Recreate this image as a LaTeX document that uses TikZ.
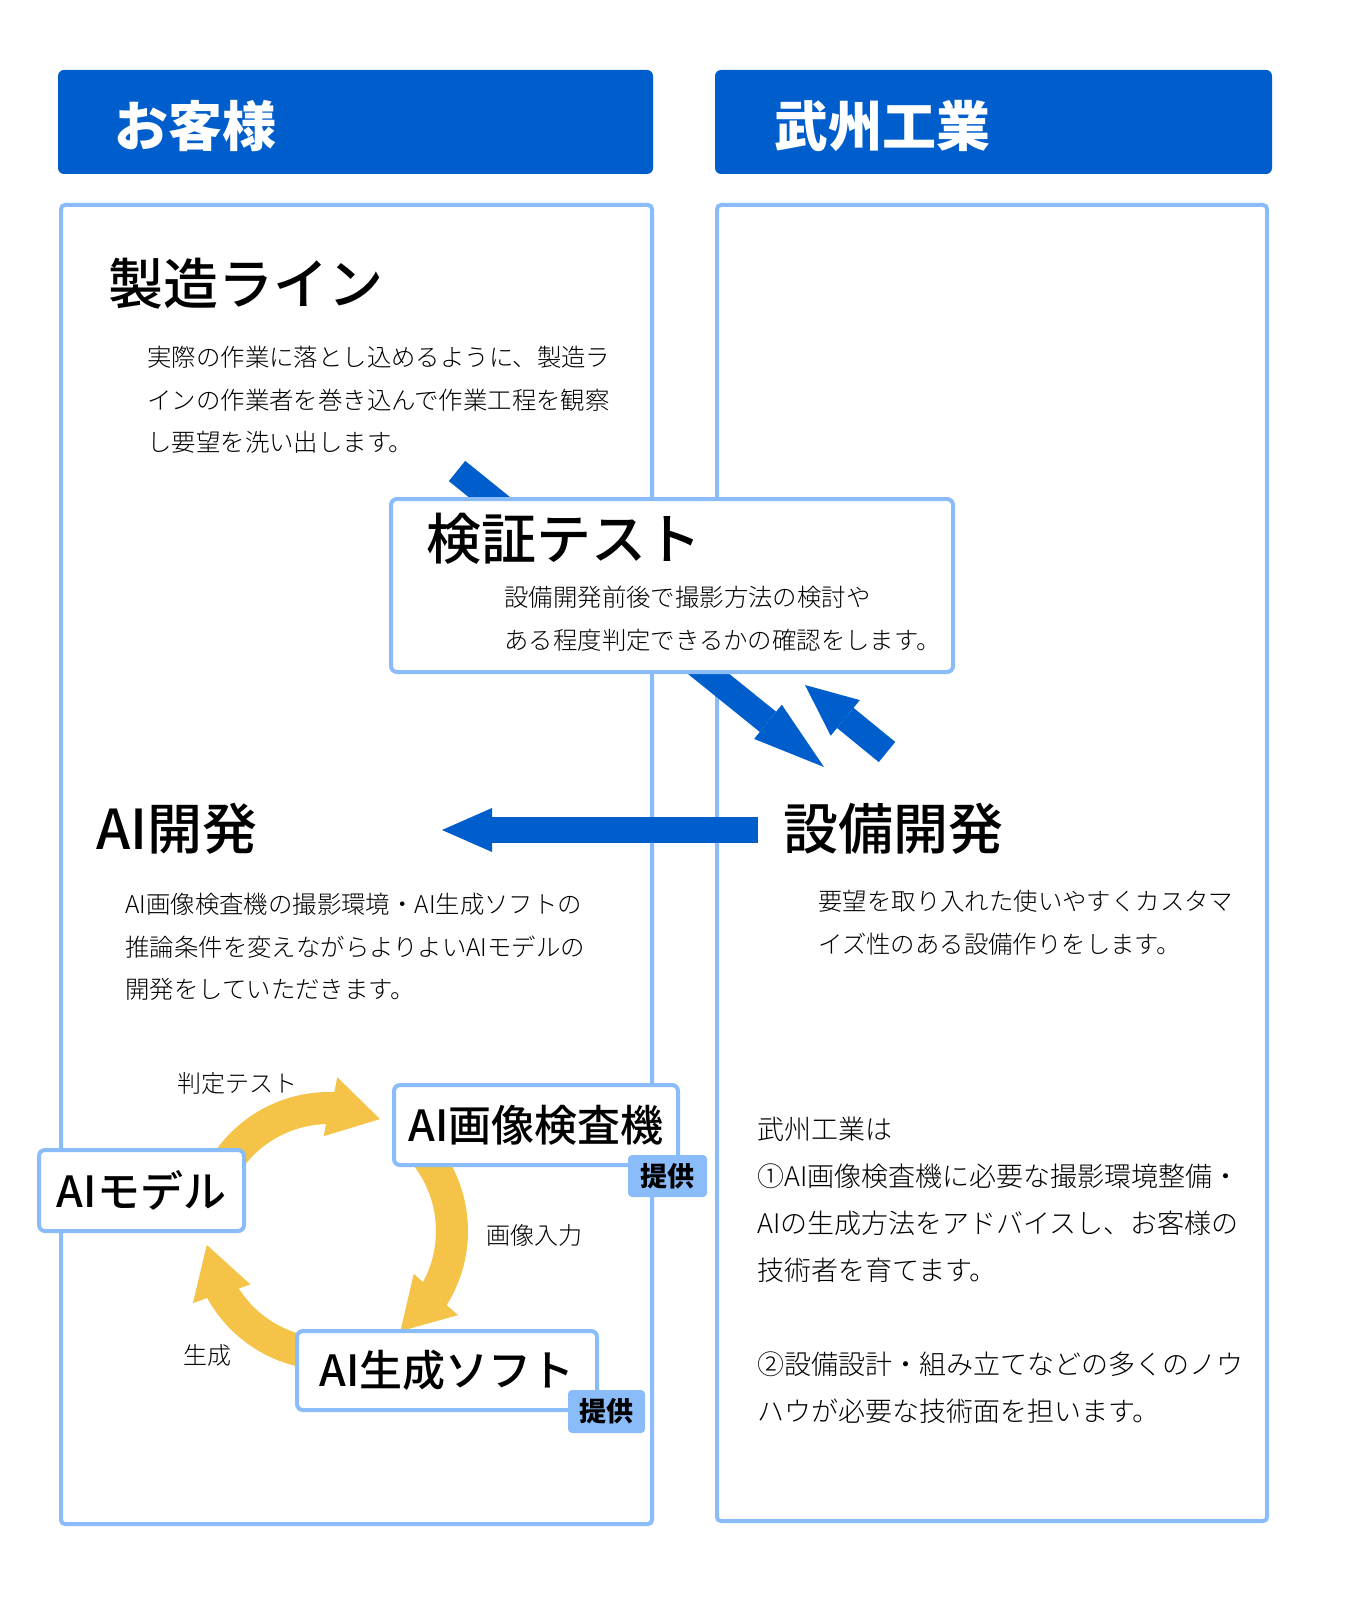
\documentclass[tikz,border=0pt]{standalone}
\usepackage{fontspec}
\setmainfont{Noto Sans CJK JP}
\IfFontExistsTF{Noto Sans CJK JP Medium}
	{\newfontfamily\midfont{Noto Sans CJK JP Medium}}
	{\newcommand\midfont{\bfseries}}
\IfFontExistsTF{Noto Sans CJK JP Light}
	{\newfontfamily\thinfont{Noto Sans CJK JP Light}}
	{\newcommand\thinfont{\normalfont}}
\usetikzlibrary{arrows.meta}

\begin{document}
\begin{tikzpicture}[x=0.5pt,y=0.5pt,
	panel/.style={draw=lineblue,line width=2pt,rounded corners=2pt},
	headtext/.style={text=white,font=\fontsize{27}{32}\selectfont\bfseries,anchor=west,inner sep=0},
	title/.style={font=\fontsize{27.5}{33}\selectfont\midfont,anchor=west,inner sep=0},
	bodytext/.style={font=\fontsize{12.2}{21.25}\selectfont\thinfont,align=left,anchor=north west,inner sep=0},
	cyclebox/.style={draw=lineblue,line width=2pt,fill=white,rounded corners=3pt,font=\fontsize{21.5}{26}\selectfont\midfont,inner sep=0},
	badge/.style={fill=lineblue,rounded corners=2pt,font=\fontsize{13.5}{16}\selectfont\bfseries,inner sep=0},
	steplabel/.style={font=\fontsize{12}{14}\selectfont\thinfont,anchor=west,inner sep=0},
	bigarrow/.style={draw=mainblue,line width=13pt,-{Triangle[length=25pt,width=22pt,line width=0pt]}}]
\definecolor{mainblue}{RGB}{0,94,204}
\definecolor{lineblue}{RGB}{138,188,250}
\definecolor{cycleyellow}{RGB}{244,195,72}

	\useasboundingbox (0,0) rectangle (1349,-1605);
	\fill[white] (0,0) rectangle (1349,-1605);

	% headers and panels
	\fill[mainblue,rounded corners=3pt] (58,-70) rectangle (653,-174);
	\fill[mainblue,rounded corners=3pt] (715,-70) rectangle (1272,-174);
	\node[headtext] (custHead) at (114,-126) {お客様};
	\node[headtext] (bushuHead) at (774,-126) {武州工業};
	\draw[panel] (61,-205) rectangle (652,-1524);
	\draw[panel] (717,-205) rectangle (1267,-1521);

	\node[title] (lineTitle) at (108,-284) {製造ライン};
	\node[bodytext] (lineText) at (147,-346) {実際の作業に落とし込めるように、製造ラ\\インの作業者を巻き込んで作業工程を観察\\し要望を洗い出します。};

	\node[title] (aiTitle) at (96,-829) {AI開発};
	\node[bodytext] (aiText) at (125,-893) {AI画像検査機の撮影環境・AI生成ソフトの\\推論条件を変えながらよりよいAIモデルの\\開発をしていただきます。};

	\node[title] (equipTitle) at (783,-829) {設備開発};
	\node[bodytext] (equipText) at (818,-890) {要望を取り入れた使いやすくカスタマ\\イズ性のある設備作りをします。};

	\node[bodytext,font=\fontsize{13.5}{23.5}\selectfont\thinfont] (roleText) at (757,-1117) {武州工業は\\①AI画像検査機に必要な撮影環境整備・\\AIの生成方法をアドバイスし、お客様の\\技術者を育てます。\\[23.5pt]②設備設計・組み立てなどの多くのノウ\\ハウが必要な技術面を担います。};

	% blue arrows
	\coordinate (lineOut) at (457,-471);
	\coordinate (equipIn) at (824,-767);
	\coordinate (equipOut) at (887,-752);
	\coordinate (testIn) at (805,-685);
	\coordinate (equipLeft) at (758,-830);
	\coordinate (aiIn) at (442,-830);
	\draw[bigarrow,-{Triangle[length=36pt,width=22pt,line width=0pt]}] (lineOut) -- (equipIn);
	\draw[bigarrow,-{Triangle[length=26pt,width=23pt,line width=0pt]}] (equipOut) -- (testIn);
	\draw[bigarrow] (equipLeft) -- (aiIn);

	\node[draw=lineblue,line width=2pt,fill=white,rounded corners=3pt,minimum width=281pt,minimum height=86.5pt] (testBox) at (672,-585.5) {};
	\node[title] (testTitle) at (426,-539) {検証テスト};
	\node[bodytext] (testText) at (504,-586) {設備開発前後で撮影方法の検討や\\ある程度判定できるかの確認をします。};

	% cycle
	\begin{scope}[shift={(329,-1231)}]
	\foreach \s/\b in {150/90,45/-30,-80/-149}
		\fill[cycleyellow] (\s:139) arc[start angle=\s,end angle=\b-2.2,radius=139] -- (\b-3.1:154) -- (\b-24.5:123) -- (\b+3.2:95) -- (\b+1.5:107) arc[start angle=\b+1.5,end angle=\s,radius=107] -- cycle;
	\end{scope}

	\node[cyclebox,minimum width=102.5pt,minimum height=40.5pt] (aiModel) at (141.5,-1190.5) {AIモデル};
	\node[cyclebox,minimum width=142pt,minimum height=40pt] (inspector) at (536,-1125) {AI画像検査機};
	\node[cyclebox,minimum width=150pt,minimum height=39.5pt] (genSoft) at (447,-1370.5) {AI生成ソフト};
	\node[badge,minimum width=39.5pt,minimum height=21pt] (inspBadge) at (667.5,-1176) {提供};
	\node[badge,minimum width=38.5pt,minimum height=21.5pt] (softBadge) at (606.5,-1411.5) {提供};

	\node[steplabel] (judgeLabel) at (177,-1083) {判定テスト};
	\node[steplabel] (imageLabel) at (486,-1235) {画像入力};
	\node[steplabel] (genLabel) at (183,-1355) {生成};

\end{tikzpicture}
\end{document}
